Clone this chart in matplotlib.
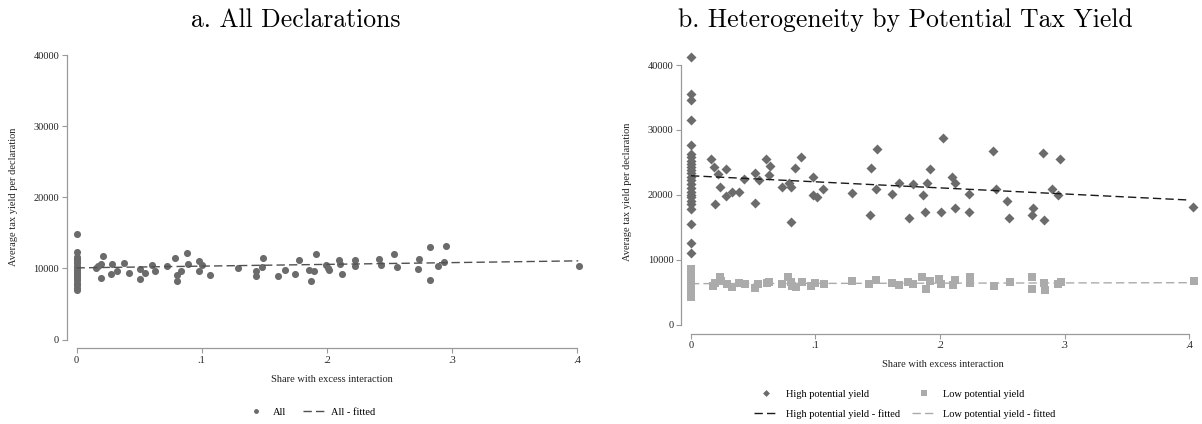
import matplotlib
matplotlib.use("Agg")
import matplotlib.pyplot as plt
from matplotlib.lines import Line2D
import numpy as np

# ---- panel a: all declarations ----
all_zero_y = [14900, 12250, 11650, 11300, 11000, 10700, 10400, 10100, 9800,
              9500, 9200, 8900, 8600, 8300, 8000, 7700, 7300, 6950]
all_x = [0.0156, 0.0175, 0.0193, 0.0209, 0.0196, 0.0284, 0.0276, 0.0327, 0.0383,
         0.0423, 0.0511, 0.0511, 0.0548, 0.0604, 0.0631, 0.0727, 0.0785, 0.0801,
         0.0801, 0.0833, 0.0881, 0.0889, 0.0977, 0.0977, 0.1004, 0.1063,
         0.1287, 0.1487, 0.1481, 0.1436, 0.1433, 0.1607, 0.1663, 0.1745, 0.1777,
         0.1855, 0.1895, 0.1873, 0.1916, 0.1996, 0.2009, 0.2020, 0.2095, 0.2108,
         0.2119, 0.2223, 0.2225, 0.2420, 0.2436, 0.2535, 0.2561,
         0.2737, 0.2732, 0.2823, 0.2825, 0.2892, 0.2935, 0.2956, 0.4020]
all_y = [10070, 10300, 10585, 11755, 8666, 10585, 9180, 9696, 10819,
         9415, 9977, 8573, 9321, 10445, 9649, 10398, 11474, 9041,
         8245, 9649, 12223, 10679, 11006, 9649, 10445, 9134,
         10070, 11474, 10210, 9602, 8900, 8994, 9836, 9181, 11147,
         9836, 9649, 8292, 12036, 10445, 10117, 9743, 11240, 10679,
         9275, 11147, 10351, 11287, 10538, 11989, 10210,
         11381, 9883, 13065, 8339, 10351, 10959, 13112, 10304]
all_fit_x = [0.0, 0.401]
all_fit_y = [10070, 11060]

# ---- panel b: high potential yield ----
high_zero_y = [41177, 35523, 34546, 31514, 27607, 26300, 25800, 25200, 24700,
               24300, 23800, 23300, 22800, 22300, 21700, 21000, 20500, 20000,
               19600, 19000, 18600, 17850, 15480, 12600, 11000]
high_x = [0.0161, 0.0185, 0.0214, 0.0195, 0.0233, 0.0284, 0.0278, 0.0329, 0.0383,
          0.0423, 0.0514, 0.0517, 0.0549, 0.0602, 0.0635, 0.0629, 0.0728, 0.0790,
          0.0806, 0.0806, 0.0838, 0.0886, 0.0977, 0.0977, 0.1009, 0.1063,
          0.1293, 0.1443, 0.1494, 0.1489, 0.1440, 0.1612, 0.1668, 0.1751, 0.1786,
          0.1863, 0.1882, 0.1898, 0.1922, 0.2005, 0.2027, 0.2097, 0.2118, 0.2123,
          0.2230, 0.2236, 0.2428, 0.2447, 0.2541, 0.2557,
          0.2747, 0.2742, 0.2830, 0.2838, 0.2902, 0.2945, 0.2964, 0.4032]
high_y = [25448, 24318, 23238, 18612, 21234, 23958, 19794, 20360, 20360,
          22467, 23290, 18766, 22262, 25448, 24420, 23033, 21131, 21799,
          21234, 15837, 24061, 25757, 22673, 20000, 19692, 20925,
          20206, 24061, 26990, 20874, 16916, 20051, 21850, 16351, 21645,
          20000, 17327, 21850, 23906, 17327, 28687, 22776, 21748, 17995,
          20051, 17327, 26682, 20822, 18972, 16351,
          17944, 16916, 26374, 16094, 20822, 19949, 25500, 18047]
high_fit_x = [0.0, 0.401]
high_fit_y = [22930, 19180]

# ---- panel b: low potential yield ----
low_zero_y = [8500, 8200, 7900, 7600, 7300, 7000, 6700, 6400, 6100, 5800,
              5500, 5200, 4900, 4600, 4300]
low_x = [0.0180, 0.0194, 0.0235, 0.0241, 0.0287, 0.0327, 0.0386, 0.0435, 0.0515,
         0.0540, 0.0610, 0.0630, 0.0735, 0.0781, 0.0802, 0.0812, 0.0843, 0.0890,
         0.0966, 0.0997, 0.1068, 0.1290, 0.1429, 0.1485, 0.1614, 0.1670, 0.1747,
         0.1784, 0.1855, 0.1886, 0.1917, 0.1991, 0.2010, 0.2108, 0.2124, 0.2238,
         0.2238, 0.2432, 0.2565, 0.2741, 0.2741, 0.2833, 0.2843, 0.2948, 0.2972,
         0.4037]
low_y = [5930, 6400, 7400, 6700, 6300, 5800, 6400, 6200, 5600,
         6300, 6400, 6550, 6300, 7300, 6550, 5930, 5770, 6550,
         5930, 6400, 6300, 6700, 6200, 6800, 6400, 6030, 6550,
         6300, 7300, 5500, 6700, 6950, 6300, 6130, 6800, 7400,
         6450, 5930, 6550, 7400, 5400, 6450, 5250, 6300, 6550,
         6700]
low_fit_x = [0.0, 0.401]
low_fit_y = [6300, 6450]

yticks = [0, 10000, 20000, 30000, 40000]
xticks = [0, 0.1, 0.2, 0.3, 0.4]
xticklabels = ["0", ".1", ".2", ".3", ".4"]

DARK = "#6b6b6b"
LIGHT = "#ababab"
AXIS = "#9a9a9a"
SERIF = "Liberation Serif"
DASH = (0, (6, 3))

plt.rcParams["font.family"] = SERIF

fig = plt.figure(figsize=(12.02, 4.24), dpi=100)


def style_axes(ax, xlim, ylim, left_off, bottom_off, ylabelpad):
    ax.set_xlim(*xlim)
    ax.set_ylim(*ylim)
    for s in ("top", "right"):
        ax.spines[s].set_visible(False)
    ax.spines["left"].set_position(("outward", left_off))
    ax.spines["bottom"].set_position(("outward", bottom_off))
    ax.spines["left"].set_bounds(0, 40000)
    ax.spines["bottom"].set_bounds(0, 0.4)
    for s in ("left", "bottom"):
        ax.spines[s].set_color(AXIS)
        ax.spines[s].set_linewidth(0.9)
    ax.set_yticks(yticks)
    ax.set_yticklabels([str(t) for t in yticks])
    ax.set_xticks(xticks)
    ax.set_xticklabels(xticklabels)
    ax.tick_params(direction="out", length=3.5, width=0.8, color=AXIS,
                   labelsize=7.5, labelcolor="#222222", pad=2)
    ax.set_xlabel("Share with excess interaction", fontsize=7.5, color="#222222", labelpad=7)
    ax.set_ylabel("Average tax yield per declaration", fontsize=7.5, color="#222222",
                  labelpad=ylabelpad)


# panel a
ax1 = fig.add_axes([0.0595, 0.1825, 0.433, 0.7045])
ax1.scatter(np.zeros(len(all_zero_y)), all_zero_y, s=26, color=DARK, linewidths=0, zorder=3, clip_on=False)
ax1.scatter(all_x, all_y, s=26, color=DARK, linewidths=0, zorder=3, clip_on=False)
ax1.plot(all_fit_x, all_fit_y, color="#505050", lw=1.0, linestyle=DASH, zorder=4)
style_axes(ax1, (-0.004, 0.412), (-1000, 41000), 3.5, 1.2, 11)
fig.text(296 / 1202, 1 - 27 / 424, "a. All Declarations", fontfamily="cmr10",
         fontsize=18.5, ha="center", va="baseline")

h1 = Line2D([], [], marker="o", linestyle="none", color=DARK, markersize=3.5, markeredgewidth=0)
h2 = Line2D([], [], color="#505050", lw=1.0, linestyle=DASH)
fig.legend([h1, h2], ["All", "All - fitted"], ncol=2, loc="center",
           bbox_to_anchor=(310 / 1202, 1 - 412 / 424), frameon=False,
           fontsize=7.5, handlelength=2.2, columnspacing=1.6, handletextpad=0.5)

# panel b
ax2 = fig.add_axes([0.5707, 0.2193, 0.4268, 0.658])
ax2.scatter(np.zeros(len(high_zero_y)), high_zero_y, s=26, marker="D", color=DARK,
            linewidths=0, zorder=3, clip_on=False)
ax2.scatter(high_x, high_y, s=26, marker="D", color=DARK, linewidths=0, zorder=3, clip_on=False)
ax2.scatter(np.zeros(len(low_zero_y)), low_zero_y, s=26, marker="s", color=LIGHT,
            linewidths=0, zorder=3, clip_on=False)
ax2.scatter(low_x, low_y, s=26, marker="s", color=LIGHT, linewidths=0, zorder=3, clip_on=False)
ax2.plot(high_fit_x, high_fit_y, color="#1a1a1a", lw=1.0, linestyle=DASH, zorder=4)
ax2.plot(low_fit_x, low_fit_y, color=LIGHT, lw=1.0, linestyle=DASH, zorder=4)
style_axes(ax2, (-0.004, 0.408), (-1000, 42000), 3.5, 2.0, 11)
fig.text(905 / 1202, 1 - 27 / 424, "b. Heterogeneity by Potential Tax Yield", fontfamily="cmr10",
         fontsize=18.5, ha="center", va="baseline")

g1 = Line2D([], [], marker="D", linestyle="none", color=DARK, markersize=3.5, markeredgewidth=0)
g2 = Line2D([], [], color="#1a1a1a", lw=1.0, linestyle=DASH)
g3 = Line2D([], [], marker="s", linestyle="none", color=LIGHT, markersize=4, markeredgewidth=0)
g4 = Line2D([], [], color=LIGHT, lw=1.0, linestyle=DASH)
fig.legend([g1, g2, g3, g4],
           ["High potential yield", "High potential yield - fitted",
            "Low potential yield", "Low potential yield - fitted"],
           ncol=2, loc="center", bbox_to_anchor=(905 / 1202, 1 - 404 / 424), frameon=False,
           fontsize=7.5, handlelength=2.2, columnspacing=1.2, handletextpad=0.8, labelspacing=1.0)

fig.savefig("out.png", dpi=100)
